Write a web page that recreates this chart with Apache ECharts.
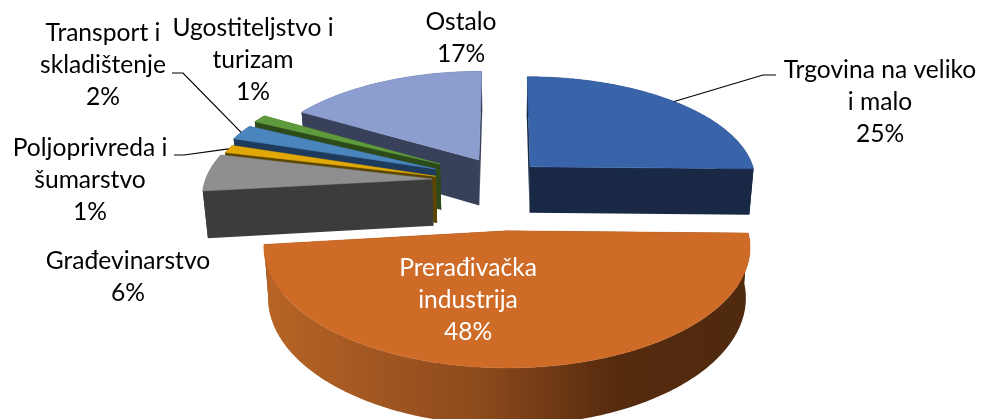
<!DOCTYPE html>
<html>
<head>
<meta charset="utf-8">
<title>Struktura po djelatnostima</title>
<script src="https://cdn.jsdelivr.net/npm/echarts@6/dist/echarts.min.js"></script>
<style>
html, body { margin: 0; padding: 0; background: #fff; }
#chart { width: 983px; height: 419px; }
</style>
</head>
<body>
<div id="chart"></div>
<script>
// data, clockwise from 12 o'clock
var categories = ['Trgovina na veliko\ni malo', 'Prerađivačka\nindustrija', 'Građevinarstvo', 'Poljoprivreda i\nšumarstvo', 'Transport i\nskladištenje', 'Ugostiteljstvo i\nturizam', 'Ostalo'];
var values = [25.3, 47.9, 5.6, 1.2, 2.3, 1.2, 16.5];

// colours per slice
var topColors = ['#3a64aa', '#ce6b27', '#8f8f8f', '#e2a808', '#4a85bd', '#5f9a3c', '#8c9dcf'];
var sideColors = ['#182845', '#4f2a0e', '#3c3c3c', '#5b4500', '#1e3a5c', '#2d4a1a', '#39415a'];

// how far each slice is pulled out of the pie, in radius units (x right, f towards viewer)
var explodeX = [0.112, 0.008, -0.322, -0.306, -0.31, -0.292, -0.118];
var explodeF = [-0.307, 0.277, -0.189, -0.215, -0.285, -0.335, -0.376];

// label placement
var labelX = [880, 468, 128, 90, 103, 253, 461];
var labelY = [102, 300, 277, 180, 65, 60, 38];
var labelColors = ['#000', '#fff', '#000', '#000', '#000', '#000', '#000'];
var leaderElbow = [[763, 75, 776], null, null, [184, 155, 174], [183, 73, 172], null, null];

// back to front
var drawOrder = [6, 5, 4, 3, 2, 0, 1];

// perspective of the pie plane
var viewX = 505, viewY0 = -636, viewH = 3.6, persA = 0.00431, persB = 0.000567;
var depth = 0.206, bottomShrink = 0.983;

function project(x, f) {
    var s = 1 / (persA - persB * f);
    return { x: viewX + s * x, y: viewY0 + viewH * s, s: s };
}

function topPoint(p) {
    return [p.x, p.y];
}

function bottomPoint(p) {
    return [viewX + (p.x - viewX) * bottomShrink, p.y + depth * p.s];
}

function sliceAngles(i) {
    var total = values.reduce(function (a, b) { return a + b; }, 0);
    var before = 0;
    for (var k = 0; k < i; k++) before += values[k];
    return [before / total * Math.PI * 2, (before + values[i]) / total * Math.PI * 2];
}

function rimPoint(i, angle) {
    return project(explodeX[i] + Math.sin(angle), explodeF[i] - Math.cos(angle));
}

function renderSlice(params) {
    var i = drawOrder[params.dataIndex];
    var a = sliceAngles(i);
    var apex = project(explodeX[i], explodeF[i]);
    var rim = [];
    var steps = Math.max(2, Math.ceil((a[1] - a[0]) * 90));
    for (var k = 0; k <= steps; k++) {
        rim.push(rimPoint(i, a[0] + (a[1] - a[0]) * k / steps));
    }
    var rimTop = rim.map(topPoint);
    var rimBottom = rim.map(bottomPoint);
    var first = rim[0], last = rim[rim.length - 1];

    var wallFill = sideColors[i];
    if (i === 1) {
        // only the big slice shows its round wall, shaded left to right
        wallFill = new echarts.graphic.LinearGradient(264, 0, 748, 0, [
            { offset: 0, color: '#b86426' },
            { offset: 0.45, color: '#8c4a1c' },
            { offset: 0.72, color: '#562b0e' },
            { offset: 1, color: '#4f2a0e' }
        ], true);
    }

    var children = [];
    [first, last].forEach(function (edge) {
        children.push({
            type: 'polygon',
            shape: { points: [topPoint(apex), topPoint(edge), bottomPoint(edge), bottomPoint(apex)] },
            style: { fill: sideColors[i] }
        });
    });
    children.push({
        type: 'polygon',
        shape: { points: rimTop.concat(rimBottom.slice().reverse()) },
        style: { fill: wallFill }
    });
    children.push({
        type: 'polygon',
        shape: { points: [topPoint(apex)].concat(rimTop) },
        style: { fill: topColors[i], stroke: topColors[i], lineWidth: 0.5 }
    });
    return { type: 'group', children: children };
}

function renderLabel(params) {
    var i = params.dataIndex;
    var children = [{
        type: 'text',
        style: {
            text: categories[i] + '\n' + Math.round(values[i]) + '%',
            x: labelX[i],
            y: labelY[i],
            align: 'center',
            verticalAlign: 'middle',
            lineHeight: 32,
            fill: labelColors[i],
            font: '24.6px Lato, "Noto Sans", sans-serif'
        }
    }];
    if (leaderElbow[i]) {
        var a = sliceAngles(i);
        var end = rimPoint(i, (a[0] + a[1]) / 2);
        children.push({
            type: 'polyline',
            shape: { points: [[leaderElbow[i][2], leaderElbow[i][1]], [leaderElbow[i][0], leaderElbow[i][1]], [end.x, end.y]] },
            style: { stroke: '#000', lineWidth: 1.2, fill: null }
        });
    }
    return { type: 'group', children: children };
}

var chart = echarts.init(document.getElementById('chart'), null, { renderer: 'canvas' });
var option = {
    animation: false,
    backgroundColor: '#fff',
    series: [{
        type: 'custom',
        coordinateSystem: 'none',
        renderItem: renderSlice,
        silent: true,
        z: 1,
        data: drawOrder.map(function (i) { return values[i]; })
    }, {
        type: 'custom',
        coordinateSystem: 'none',
        renderItem: renderLabel,
        silent: true,
        z: 2,
        data: values
    }]
};
chart.setOption(option);
</script>
</body>
</html>
